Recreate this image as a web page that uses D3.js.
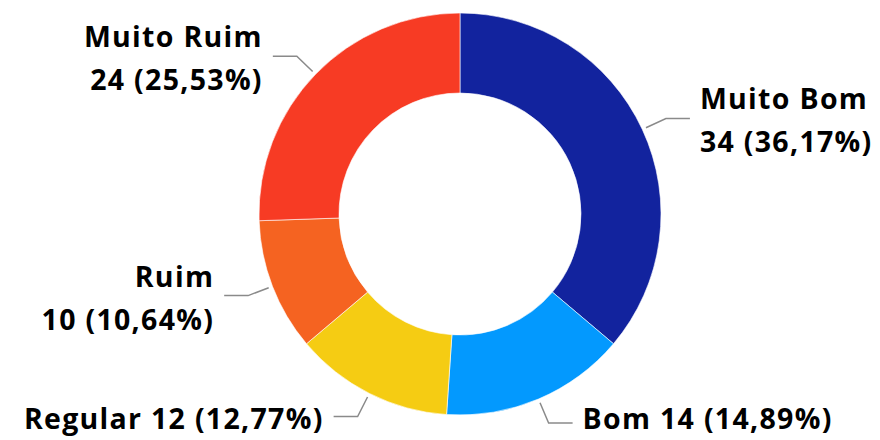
<!DOCTYPE html>
<html><head><meta charset="utf-8">
<script src="https://cdn.jsdelivr.net/npm/d3@7"></script>
<style>body{margin:0;background:#fff}svg{display:block}</style>
</head><body>
<svg id="c" width="880" height="440"></svg>
<script>
const categories = ["Muito Bom", "Bom", "Regular", "Ruim", "Muito Ruim"];
const values = [34, 14, 12, 10, 24];
const colors = ["#12239E", "#0399FE", "#F5CC13", "#F56321", "#F73B24"];

const W = 880, H = 440, cx = 460, cy = 214, rOuter = 201, rInner = 121;
const total = d3.sum(values);
const fmt = v => d3.format(".2f")(v).replace(".", ",");
const svg = d3.select("#c");
const g = svg.append("g").attr("transform", `translate(${cx},${cy})`);

const data = categories.map((c, i) => ({ cat: c, val: values[i], col: colors[i] }));
const pie = d3.pie().value(d => d.val).sort(null);
const arcs = pie(data);
const arc = d3.arc().innerRadius(rInner).outerRadius(rOuter);

g.selectAll("path.slice").data(arcs).join("path")
  .attr("class", "slice")
  .attr("d", arc)
  .attr("fill", d => d.data.col)
  .attr("stroke", "#fff").attr("stroke-width", 0.6);

const font = "'Open Sans', 'Noto Sans', sans-serif";
const fs = 28.5, lh = 43;
arcs.forEach(a => {
  const m = (a.startAngle + a.endAngle) / 2;
  const s = Math.sin(m), c = -Math.cos(m);
  const p0 = [s * (rOuter + 4), c * (rOuter + 4)];
  const p1 = [s * (rOuter + 26), c * (rOuter + 26)];
  const right = s > 0;
  const p2 = [p1[0] + (right ? 24 : -24), p1[1]];
  g.append("polyline")
    .attr("points", [p0, p1, p2].map(p => p.join(",")).join(" "))
    .attr("fill", "none").attr("stroke", "#8a8a8a").attr("stroke-width", 1.5);
  const pct = a.data.val / total * 100;
  const line1 = a.data.cat;
  const line2 = `${a.data.val} (${fmt(pct)}%)`;
  const tx = p2[0] + (right ? 10 : -10);
  const t = g.append("text")
    .attr("x", tx)
    .attr("text-anchor", right ? "start" : "end")
    .attr("font-family", font).attr("font-weight", 700)
    .attr("font-size", fs).attr("letter-spacing", 1.3).attr("fill", "#000");
  const single = p1[1] + cy > 380;
  if (single) {
    t.attr("y", H - 11 - cy).text(`${line1} ${line2}`);
  } else {
    t.attr("y", p1[1] - 9);
    t.append("tspan").attr("x", tx).attr("dy", 0).text(line1);
    t.append("tspan").attr("x", tx).attr("dy", lh).text(line2);
  }
});
</script>
</body></html>
